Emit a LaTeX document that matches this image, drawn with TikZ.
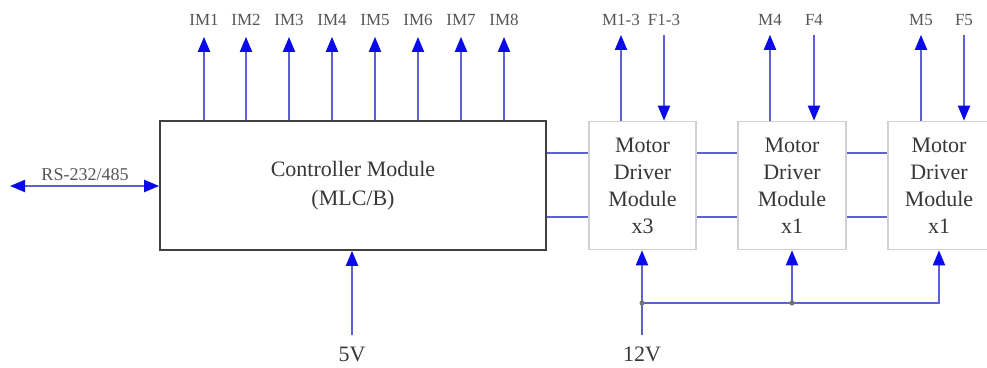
\documentclass[tikz,border=0pt]{standalone}
\usepackage{fontspec}
\setmainfont{Liberation Serif}
\usetikzlibrary{arrows.meta}
\definecolor{lineblue}{RGB}{95,95,215}
\definecolor{tipblue}{RGB}{10,10,235}
\definecolor{txt}{RGB}{55,55,55}
\tikzset{
  conn/.style={draw=lineblue, line width=2pt},
  arr/.style={conn, -{Triangle[length=15pt,width=12pt,color=tipblue]}},
  darr/.style={conn, {Triangle[length=15pt,width=12pt,color=tipblue]}-{Triangle[length=15pt,width=12pt,color=tipblue]}},
  ctrlbox/.style={draw=black!75, line width=1.6pt, inner sep=0pt, text=txt,
    font=\fontsize{22}{28.5}\selectfont, align=center, minimum width=386pt, minimum height=129pt},
  mdbox/.style={draw=black!18, line width=1.6pt, inner sep=0pt, text=txt,
    font=\fontsize{22}{27}\selectfont, align=center, minimum height=128pt},
  small/.style={text=txt!85, font=\fontsize{17}{20}\selectfont, inner sep=0pt},
  big/.style={text=txt, font=\fontsize{22}{26}\selectfont, inner sep=0pt},
  jdot/.style={circle, fill=black!55, inner sep=0pt, minimum size=5pt},
}
\begin{document}
\begin{tikzpicture}[x=1pt,y=-1pt]
\useasboundingbox (0,0) rectangle (987,367);

% boxes
\node[ctrlbox] (ctrl) at (353,185.5) {Controller Module\\(MLC/B)};
\node[mdbox, minimum width=107pt] (md1) at (642.5,185.5) {Motor\\Driver\\Module\\x3};
\node[mdbox, minimum width=108pt] (md2) at (792,185.5) {Motor\\Driver\\Module\\x1};
\node[mdbox, minimum width=102pt] (md3) at (939,185.5) {Motor\\Driver\\Module\\x1};

% IM outputs
\foreach \i/\x in {1/204,2/246,3/289,4/332,5/375,6/418,7/461,8/504}{
  \node[small] (im\i) at (\x,20) {IM\i};
  \draw[arr] (ctrl.north -| im\i) -- ([yshift=-11pt]im\i.south);
}

% motor driver signals
\node[small] (m13) at (621,20) {M1-3};
\node[small] (f13) at (664,20) {F1-3};
\node[small] (m4) at (770,20) {M4};
\node[small] (f4) at (814,20) {F4};
\node[small] (m5) at (921,20) {M5};
\node[small] (f5) at (964,20) {F5};
\draw[arr] (md1.north -| m13) -- ([yshift=-9pt]m13.south);
\draw[arr] ([yshift=-9pt]f13.south) -- (md1.north -| f13);
\draw[arr] (md2.north -| m4) -- ([yshift=-9pt]m4.south);
\draw[arr] ([yshift=-9pt]f4.south) -- (md2.north -| f4);
\draw[arr] (md3.north -| m5) -- ([yshift=-9pt]m5.south);
\draw[arr] ([yshift=-9pt]f5.south) -- (md3.north -| f5);

% bus lines
\coordinate (ya) at (0,153);
\coordinate (yb) at (0,217);
\draw[conn] (ctrl.east |- ya) -- (md1.west |- ya);
\draw[conn] (ctrl.east |- yb) -- (md1.west |- yb);
\draw[conn] (md1.east |- ya) -- (md2.west |- ya);
\draw[conn] (md1.east |- yb) -- (md2.west |- yb);
\draw[conn] (md2.east |- ya) -- (md3.west |- ya);
\draw[conn] (md2.east |- yb) -- (md3.west |- yb);

% RS-232/485
\coordinate (rsl) at (10,186);
\node[small, font=\fontsize{18}{20}\selectfont] (rs) at (85,175) {RS-232/485};
\draw[darr] (rsl) -- (ctrl.west |- rsl);

% 5V
\node[big] (v5) at (352,354) {5V};
\draw[arr] ([yshift=11pt]v5.north) -- (ctrl.south -| v5);

% 12V
\node[big] (v12) at (642,354) {12V};
\coordinate (j1) at (642,303);
\coordinate (j2) at (792,303);
\draw[arr] ([yshift=11pt]v12.north) -- (md1.south -| v12);
\draw[arr] (j1) -- (j2) -- (j2 -| md3.south) -- (md3.south);
\draw[arr] (j2) -- (md2.south);
\node[jdot] at (j1) {};
\node[jdot] at (j2) {};
\end{tikzpicture}
\end{document}
